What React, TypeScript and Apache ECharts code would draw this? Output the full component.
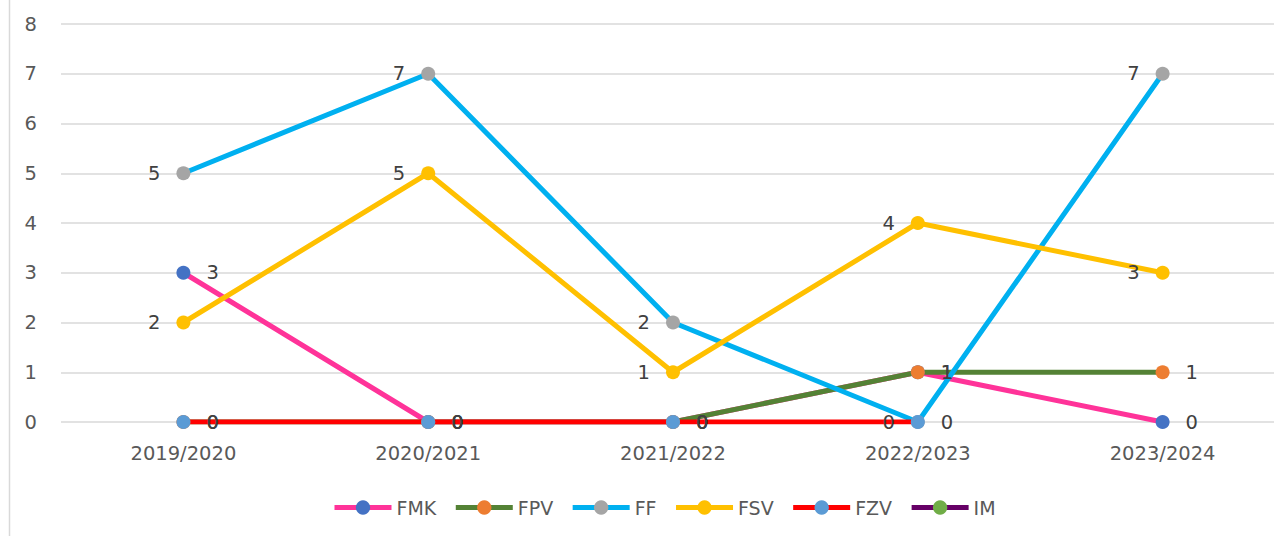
import React, { useEffect, useRef } from "react";
import * as echarts from "echarts";

const categories = ["2019/2020", "2020/2021", "2021/2022", "2022/2023", "2023/2024"];
const fmk = [3, 0, 0, 1, 0];
const fpv = [0, 0, 0, 1, 1];
const ff = [5, 7, 2, 0, 7];
const fsv = [2, 5, 1, 4, 3];
const fzv = [0, 0, 0, 0, null];
const im: (number | null)[] = [null, null, null, null, null];

const FONT = "DejaVu Sans";

export default function App() {
  const ref = useRef<HTMLDivElement>(null);
  useEffect(() => {
    if (!ref.current) return;
    const chart = echarts.init(ref.current, null, { renderer: "svg" });
    const mk = (name: string, data: (number | null)[], line: string, marker: string, pos: string) => ({
      name,
      type: "line",
      data,
      symbol: "circle",
      symbolSize: 14,
      showAllSymbol: true,
      lineStyle: { color: line, width: 5 },
      itemStyle: { color: marker },
      label: {
        show: true,
        position: pos,
        distance: 16,
        color: "#404040",
        fontFamily: FONT,
        fontSize: 19.5,
      },
      emphasis: { disabled: true },
    });
    chart.setOption({
      animation: false,
      grid: { left: 61, right: 0, top: 24, bottom: 114, containLabel: false },
      graphic: [
        {
          type: "line",
          shape: { x1: 9.5, y1: 0, x2: 9.5, y2: 536 },
          style: { stroke: "#d9d9d9", lineWidth: 1.5 },
        },
      ],
      xAxis: {
        type: "category",
        data: categories,
        boundaryGap: true,
        axisLine: { show: false },
        axisTick: { show: false },
        axisLabel: { color: "#595959", fontFamily: FONT, fontSize: 19.5, margin: 21 },
        splitLine: { show: false },
      },
      yAxis: {
        type: "value",
        min: 0,
        max: 8,
        interval: 1,
        axisLine: { show: false },
        axisTick: { show: false },
        axisLabel: { color: "#595959", fontFamily: FONT, fontSize: 19.5, margin: 24 },
        splitLine: { lineStyle: { color: "#d9d9d9", width: 1.5 } },
      },
      legend: {
        left: 332,
        top: 498,
        padding: 0,
        itemWidth: 57,
        itemHeight: 18,
        itemGap: 17,
        lineStyle: { width: 5 },
        textStyle: { color: "#595959", fontFamily: FONT, fontSize: 19 },
        data: ["FMK", "FPV", "FF", "FSV", "FZV", "IM"],
      },
      series: [
        mk("FMK", fmk, "#FF3399", "#4472C4", "right"),
        mk("FPV", fpv, "#548235", "#ED7D31", "right"),
        mk("FF", ff, "#00B0F0", "#A5A5A5", "left"),
        mk("FSV", fsv, "#FFC000", "#FFC000", "left"),
        mk("FZV", fzv, "#FF0000", "#5B9BD5", "right"),
        mk("IM", im, "#660066", "#70AD47", "right"),
      ],
    });
    return () => chart.dispose();
  }, []);
  return (
    <div style={{ position: "absolute", left: 0, top: 0, width: 1274, height: 536, overflow: "hidden", background: "#fff" }}>
      <div ref={ref} style={{ width: 1285, height: 536 }} />
    </div>
  );
}
